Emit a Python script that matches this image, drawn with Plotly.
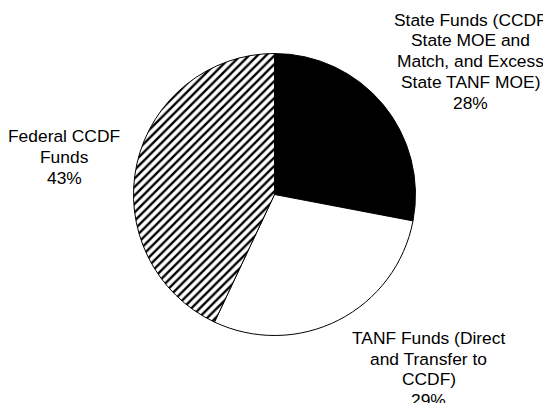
import plotly.graph_objects as go

labels = ["State Funds (CCDF State MOE and Match, and Excess State TANF MOE)",
          "TANF Funds (Direct and Transfer to CCDF)",
          "Federal CCDF Funds"]
values = [28, 29, 43]
label_lines = [["State Funds (CCDF", "State MOE and", "Match, and Excess", "State TANF MOE)"],
               ["TANF Funds (Direct", "and Transfer to", "CCDF)"],
               ["Federal CCDF", "Funds"]]

# page offset (browser body margin) compensation
OFF = 8
W, H = 551 - OFF, 403 - OFF
cx, cy, r = 274.5 - OFF, 194.5 - OFF, 141

fig = go.Figure(go.Pie(
    labels=labels, values=values, sort=False, direction="clockwise", rotation=0,
    textinfo="none", hoverinfo="label+percent", showlegend=False,
    marker=dict(colors=["black", "white", "white"],
                line=dict(color="black", width=1),
                pattern=dict(shape=["", "", "/"], fgcolor="black", bgcolor="white",
                             size=6, solidity=0.4)),
    domain=dict(x=[(cx - r) / W, (cx + r) / W], y=[1 - (cy + r) / H, 1 - (cy - r) / H]),
))

total = sum(values)
# (center x, cap-top of first line) in page pixels
anchors = [(470, 13.5), (428.5, 331.7), (64, 130)]
spacing = 20.8
for lines, v, (px, ptop) in zip(label_lines, values, anchors):
    all_lines = lines + [f"{round(100 * v / total)}%"]
    for i, line in enumerate(all_lines):
        yc = ptop + i * spacing + 6.1 - OFF
        fig.add_annotation(x=(px - OFF) / W, y=1 - yc / H, xref="paper", yref="paper",
                           text=line, showarrow=False,
                           xanchor="center", yanchor="middle", align="center",
                           font=dict(size=17.4, color="black"))

fig.update_layout(width=W, height=H, margin=dict(l=0, r=0, t=0, b=0),
                  paper_bgcolor="white", plot_bgcolor="white",
                  font=dict(family="Liberation Sans, Arial, sans-serif", color="black"))
fig.write_html("out.html")
